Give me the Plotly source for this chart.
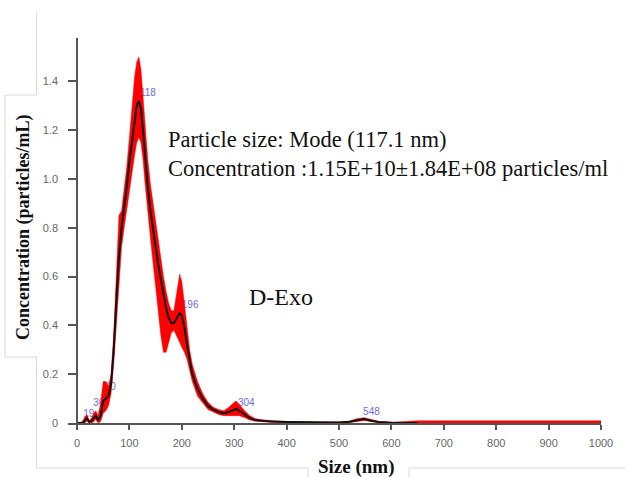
import plotly.graph_objects as go

# ---------------- data ----------------
size_nm = [0, 10, 15, 19, 23, 28, 32, 36, 40, 45, 50, 55, 60, 65, 70, 75, 80, 85, 90, 95,
           100, 105, 110, 114, 118, 122, 126, 130, 135, 140, 145, 150, 155, 160, 165, 170,
           175, 180, 185, 190, 196, 200, 205, 210, 215, 220, 230, 240, 250, 260, 270, 280,
           290, 300, 304, 310, 320, 330, 340, 350, 370, 400, 450, 500, 520, 535, 548, 560,
           575, 600, 650, 700, 800, 900, 1000]

conc_mean = [0, 0, 0.01, 0.02, 0.005, 0.01, 0.02, 0.03, 0.01, 0.03, 0.09, 0.10, 0.11, 0.16,
             0.30, 0.50, 0.68, 0.80, 0.88, 0.97, 1.07, 1.16, 1.24, 1.30, 1.32, 1.29, 1.20,
             1.08, 0.97, 0.87, 0.79, 0.72, 0.65, 0.59, 0.53, 0.47, 0.43, 0.41, 0.41, 0.43,
             0.45, 0.44, 0.39, 0.32, 0.25, 0.20, 0.14, 0.10, 0.07, 0.055, 0.045, 0.040,
             0.045, 0.055, 0.058, 0.05, 0.035, 0.02, 0.012, 0.009, 0.006, 0.004, 0.002,
             0.002, 0.005, 0.012, 0.016, 0.010, 0.004, 0.001, 0.0, None, None, None, None]

conc_hi = [0, 0.005, 0.025, 0.035, 0.01, 0.02, 0.04, 0.05, 0.03, 0.08, 0.17, 0.17, 0.15, 0.20,
           0.36, 0.62, 0.85, 0.87, 0.95, 1.05, 1.17, 1.30, 1.42, 1.48, 1.50, 1.45, 1.34,
           1.20, 1.08, 0.98, 0.90, 0.82, 0.75, 0.67, 0.60, 0.54, 0.49, 0.46, 0.46, 0.53,
           0.61, 0.58, 0.48, 0.38, 0.30, 0.24, 0.17, 0.12, 0.085, 0.065, 0.055, 0.05,
           0.065, 0.085, 0.09, 0.075, 0.05, 0.03, 0.018, 0.013, 0.009, 0.006, 0.004,
           0.004, 0.008, 0.018, 0.022, 0.015, 0.007, 0.003, 0.009, 0.009, 0.009, 0.009, 0.009]

conc_lo = [0, 0, 0, 0.008, 0, 0, 0.005, 0.015, 0, 0.005, 0.04, 0.05, 0.07, 0.12, 0.24, 0.40,
           0.55, 0.72, 0.80, 0.88, 0.96, 1.04, 1.10, 1.15, 1.17, 1.15, 1.08, 0.98, 0.86,
           0.76, 0.66, 0.56, 0.46, 0.36, 0.29, 0.29, 0.33, 0.37, 0.38, 0.36, 0.33, 0.31,
           0.29, 0.26, 0.21, 0.17, 0.11, 0.08, 0.055, 0.045, 0.035, 0.03, 0.03, 0.03,
           0.03, 0.03, 0.022, 0.012, 0.007, 0.005, 0.003, 0.002, 0.0005, 0.0005, 0.002,
           0.006, 0.01, 0.006, 0.002, 0, 0, 0, 0, 0, 0]

peak_x = [12, 31, 53, 120, 200, 307, 546]
peak_y = [0.035, 0.08, 0.145, 1.351, 0.482, 0.081, 0.044]
peak_labels = ["19", "36", "60", "118", "196", "304", "548"]

x_ticks = [0, 100, 200, 300, 400, 500, 600, 700, 800, 900, 1000]
y_ticks = [0, 0.2, 0.4, 0.6, 0.8, 1.0, 1.2, 1.4]
y_tick_text = ["0", "0.2", "0.4", "0.6", "0.8", "1.0", "1.2", "1.4"]

# ---------------- layout geometry ----------------
W, H = 625, 477
L, R, T, B = 68, 24, 38, 54


def xp(px):
    return (px - L) / (W - L - R)


def yp(py):
    return (H - B - py) / (H - T - B)


fig = go.Figure()

# peak labels (drawn first so the band covers them partly)
fig.add_trace(go.Scatter(
    x=peak_x, y=peak_y, mode="text", text=peak_labels, textposition="middle right",
    textfont=dict(family="Arial, Liberation Sans, sans-serif", size=10, color="#6a6af2"),
    hoverinfo="skip", showlegend=False))

# error band
fig.add_trace(go.Scatter(x=size_nm, y=conc_lo, mode="lines",
                         line=dict(color="#ff0000", width=0.5),
                         showlegend=False, hoverinfo="skip"))
fig.add_trace(go.Scatter(x=size_nm, y=conc_hi, mode="lines", fill="tonexty",
                         fillcolor="#ff0000", line=dict(color="#ff0000", width=0.5),
                         showlegend=False, hoverinfo="skip"))
# mean line
fig.add_trace(go.Scatter(x=size_nm, y=conc_mean, mode="lines",
                         line=dict(color="#111111", width=2),
                         connectgaps=False, showlegend=False))

frame_col = "#d9d9d9"
shapes = []


def seg(x0, y0, x1, y1, color=frame_col, width=1):
    shapes.append(dict(type="line", xref="paper", yref="paper",
                       x0=xp(x0), y0=yp(y0), x1=xp(x1), y1=yp(y1),
                       line=dict(color=color, width=width), layer="above"))


# faint frame lines of the composite picture
seg(36.5, 13, 36.5, 95)
seg(5, 95, 36.5, 95)
seg(5, 95, 5, 357)
seg(5, 357, 36.5, 357)
seg(36.5, 357, 36.5, 468)
seg(36.5, 468, 308, 468)
seg(308, 468, 308, 477)
seg(409, 468, 409, 477)
seg(409, 468, 625, 468)

# y axis line at x = 0
shapes.append(dict(type="line", xref="x", yref="paper", x0=0, x1=0, y0=0, y1=1,
                   line=dict(color="#555555", width=2), layer="above"))

annotations = [
    dict(text="Particle size: Mode (117.1 nm)<br>Concentration :1.15E+10\u00b11.84E+08 particles/ml",
         xref="paper", yref="paper", x=xp(166), y=yp(154), xanchor="left", yanchor="middle",
         align="left", showarrow=False,
         font=dict(family="Liberation Serif, Times New Roman, serif", size=22.5, color="#111111")),
    dict(text="D-Exo", xref="paper", yref="paper", x=xp(247), y=yp(297),
         xanchor="left", yanchor="middle", showarrow=False,
         font=dict(family="Liberation Serif, Times New Roman, serif", size=24, color="#111111")),
    dict(text="<b>Concentration (particles/mL)</b>", xref="paper", yref="paper",
         x=xp(23), y=yp(228), xanchor="center", yanchor="middle", textangle=-90,
         showarrow=False,
         font=dict(family="Liberation Serif, Times New Roman, serif", size=18, color="#111111")),
    dict(text="<b>Size (nm)</b>", xref="paper", yref="paper", x=xp(356), y=yp(467),
         xanchor="center", yanchor="middle", showarrow=False,
         font=dict(family="Liberation Serif, Times New Roman, serif", size=19, color="#111111")),
]

fig.update_layout(
    width=W, height=H,
    margin=dict(l=L, r=R, t=T, b=B, pad=0),
    paper_bgcolor="white", plot_bgcolor="white",
    shapes=shapes, annotations=annotations,
    showlegend=False,
    xaxis=dict(range=[-17.2, 1000], tickvals=x_ticks, ticks="outside", ticklen=5,
               tickwidth=1.5, tickcolor="#555555", showline=True, linecolor="#555555",
               linewidth=2, showgrid=False, zeroline=False, layer="below traces",
               ticklabelstandoff=4,
               tickfont=dict(family="Arial, Liberation Sans, sans-serif", size=11,
                             color="#666666")),
    yaxis=dict(range=[0, 1.578], tickvals=y_ticks, ticktext=y_tick_text, ticks="inside",
               ticklen=9, tickwidth=1.5, tickcolor="#555555", showline=False,
               showgrid=False, zeroline=False, ticklabelstandoff=9,
               tickfont=dict(family="Arial, Liberation Sans, sans-serif", size=11,
                             color="#666666")),
)

fig.write_html("out.html")
